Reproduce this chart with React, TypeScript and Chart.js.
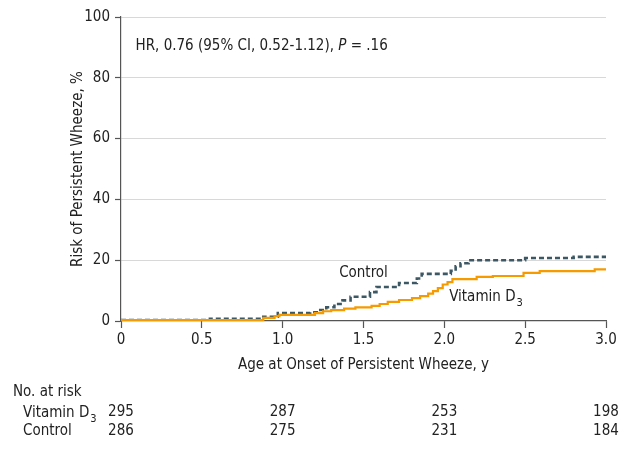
import React, { useEffect, useRef } from "react";
import { Chart, registerables } from "chart.js";

Chart.register(...registerables);

// ---- Data ----
const controlTimes = [0, 0.55, 0.88, 0.97, 1.17, 1.22, 1.27, 1.32, 1.37, 1.42, 1.54, 1.58, 1.72, 1.83, 1.86, 2.04, 2.07, 2.1, 2.15, 2.5, 2.8, 3.0];
const controlRisk = [0.3, 0.7, 1.4, 2.6, 2.9, 3.6, 4.5, 5.6, 6.8, 8.0, 9.5, 11.2, 12.5, 14.0, 15.5, 16.5, 18.0, 19.0, 20.0, 20.7, 21.1, 21.1];
const vitdTimes = [0, 0.88, 0.95, 0.98, 1.2, 1.25, 1.3, 1.38, 1.45, 1.55, 1.6, 1.65, 1.72, 1.8, 1.85, 1.9, 1.93, 1.96, 1.99, 2.02, 2.05, 2.2, 2.3, 2.49, 2.59, 2.93, 3.0];
const vitdRisk = [0.3, 1.0, 1.6, 2.0, 2.6, 3.2, 3.6, 4.1, 4.5, 5.0, 5.6, 6.3, 6.9, 7.5, 8.2, 9.0, 9.8, 10.8, 12.0, 12.8, 13.8, 14.5, 14.8, 15.8, 16.4, 17.0, 17.0];

const xTicks = [0, 0.5, 1.0, 1.5, 2.0, 2.5, 3.0];
const yTicks = [0, 20, 40, 60, 80, 100];

const atRiskTimes = [0, 1, 2, 3];
const vitdAtRisk = [295, 287, 253, 198];
const controlAtRisk = [286, 275, 231, 184];

const FONT = "'Liberation Sans Narrow', 'DejaVu Sans Condensed', 'Noto Sans', sans-serif";
const TEXT = "#222222";
const ORANGE = "#f59b00";
const SLATE = "#3c5865";

function drawSub(ctx: CanvasRenderingContext2D, x: number, y: number, main: string, sub: string, size: number) {
  ctx.font = `${size}px ${FONT}`;
  ctx.textBaseline = "alphabetic";
  ctx.textAlign = "left";
  ctx.fillText(main, x, y);
  const w = ctx.measureText(main).width;
  ctx.font = `${Math.round(size * 0.75)}px ${FONT}`;
  ctx.fillText(sub, x + w + 1, y + size * 0.3);
}

const annotations = {
  id: "annotations",
  afterDraw(chart: any) {
    const ctx = chart.ctx as CanvasRenderingContext2D;
    const xs = chart.scales.x;
    const ys = chart.scales.y;
    ctx.save();
    ctx.fillStyle = TEXT;
    // HR text
    ctx.font = `15px ${FONT}`;
    ctx.textBaseline = "middle";
    ctx.textAlign = "left";
    const hx = xs.getPixelForValue(0.09);
    const hy = ys.getPixelForValue(90.5);
    const p1 = "HR, 0.76 (95% CI, 0.52-1.12), ";
    ctx.fillText(p1, hx, hy);
    let w = ctx.measureText(p1).width;
    ctx.font = `italic 15px ${FONT}`;
    ctx.fillText("P", hx + w, hy);
    w += ctx.measureText("P").width;
    ctx.font = `15px ${FONT}`;
    ctx.fillText(" = .16", hx + w, hy);

    // series labels
    ctx.font = `15px ${FONT}`;
    ctx.textAlign = "center";
    ctx.fillText("Control", xs.getPixelForValue(1.5), ys.getPixelForValue(15.8));
    drawSub(ctx, xs.getPixelForValue(2.03), ys.getPixelForValue(8.2) + 5, "Vitamin D", "3", 15);

    // at-risk table
    ctx.fillStyle = TEXT;
    ctx.font = `15px ${FONT}`;
    ctx.textAlign = "left";
    ctx.textBaseline = "middle";
    ctx.fillText("No. at risk", 13, 392);
    drawSub(ctx, 23, 412 + 5, "Vitamin D", "3", 15);
    ctx.font = `15px ${FONT}`;
    ctx.textBaseline = "middle";
    ctx.fillText("Control", 23, 431);
    ctx.textAlign = "center";
    atRiskTimes.forEach((t, i) => {
      const px = xs.getPixelForValue(t);
      ctx.fillText(String(vitdAtRisk[i]), px, 412);
      ctx.fillText(String(controlAtRisk[i]), px, 431);
    });
    ctx.restore();
  },
};

export default function App() {
  const ref = useRef<HTMLCanvasElement>(null);
  useEffect(() => {
    if (!ref.current) return;
    const chart = new Chart(ref.current, {
      type: "line",
      data: {
        datasets: [
          {
            label: "Vitamin D3",
            data: vitdTimes.map((t, i) => ({ x: t, y: vitdRisk[i] })),
            borderColor: ORANGE,
            borderWidth: 2.2,
            stepped: "before",
            pointRadius: 0,
            fill: false,
          },
          {
            label: "Control",
            data: controlTimes.map((t, i) => ({ x: t, y: controlRisk[i] })),
            borderColor: SLATE,
            borderWidth: 2.6,
            borderDash: [5, 3],
            stepped: "before",
            pointRadius: 0,
            fill: false,
          },
        ],
      },
      options: {
        animation: false,
        responsive: false,
        layout: { padding: { top: 17, right: 20, bottom: 78, left: 0 } },
        plugins: { legend: { display: false }, tooltip: { enabled: false } },
        scales: {
          x: {
            type: "linear",
            min: 0,
            max: 3,
            afterBuildTicks: (s: any) => {
              s.ticks = xTicks.map((v) => ({ value: v }));
            },
            afterFit: (s: any) => {
              s.height = 60;
            },
            ticks: {
              color: TEXT,
              font: { family: FONT, size: 15 },
              padding: 3,
              maxRotation: 0,
              callback: (v: any) => (v === 0 ? "0" : Number(v).toFixed(1)),
            },
            grid: { drawOnChartArea: false, drawTicks: true, tickLength: 7, tickColor: "#555555", tickWidth: 1.2 },
            border: { color: "#555555", width: 1.2 },
            title: {
              display: true,
              text: "Age at Onset of Persistent Wheeze, y",
              color: TEXT,
              font: { family: FONT, size: 15 },
              padding: { top: 0, bottom: 7 },
            },
          },
          y: {
            type: "linear",
            min: 0,
            max: 100,
            afterBuildTicks: (s: any) => {
              s.ticks = yTicks.map((v) => ({ value: v }));
            },
            afterFit: (s: any) => {
              s.width = 121;
            },
            ticks: { color: TEXT, font: { family: FONT, size: 15 }, padding: 5 },
            grid: {
              color: (c: any) => (c.tick && c.tick.value === 0 ? "rgba(0,0,0,0)" : "#d8d8d8"),
              tickColor: "#555555",
              tickLength: 6,
              lineWidth: 1,
              tickWidth: 1.2,
            },
            border: { color: "#555555", width: 1.2 },
            title: {
              display: true,
              text: "Risk of Persistent Wheeze, %",
              color: TEXT,
              font: { family: FONT, size: 15 },
              padding: { top: 69, bottom: 0 },
            },
          },
        },
      },
      plugins: [annotations],
    });
    return () => chart.destroy();
  }, []);
  return (
    <div style={{ position: "absolute", left: 0, top: 0, width: 626, height: 459, background: "#fff" }}>
      <canvas ref={ref} width={626} height={459} />
    </div>
  );
}
